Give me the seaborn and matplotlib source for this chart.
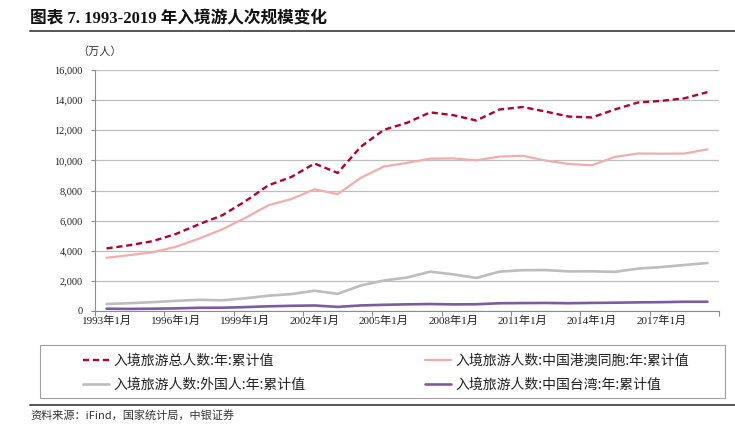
import numpy as np
import pandas as pd
import matplotlib
matplotlib.use('Agg')
import matplotlib.pyplot as plt
from matplotlib.lines import Line2D
from matplotlib.patches import Rectangle
from matplotlib.ticker import FuncFormatter, FixedLocator
import seaborn as sns

# 数据 (万人次)
years = list(range(1993, 2020))
total = [4152.7, 4368.4, 4638.7, 5112.8, 5758.8, 6347.8, 7279.6, 8344.4, 8901.3, 9790.8,
         9166.2, 10903.8, 12029.2, 12494.2, 13187.3, 13002.7, 12647.6, 13376.2, 13542.4,
         13240.5, 12907.8, 12849.8, 13382.0, 13844.4, 13948.2, 14119.8, 14531.0]
hkmo = [3534.8, 3711.2, 3896.8, 4265.0, 4804.2, 5419.5, 6177.9, 7017.5, 7434.5, 8080.8,
        7752.7, 8841.9, 9592.8, 9831.8, 10113.5, 10131.6, 10005.4, 10249.4, 10304.9,
        9987.3, 9762.5, 9677.1, 10233.6, 10456.3, 10444.6, 10451.9, 10729.6]
foreign = [465.2, 518.2, 588.7, 674.4, 742.8, 710.8, 843.2, 1016.0, 1122.6, 1343.9,
           1140.3, 1693.3, 2025.5, 2221.0, 2611.0, 2432.5, 2193.8, 2612.7, 2711.2,
           2719.2, 2629.0, 2636.1, 2598.5, 2815.1, 2916.5, 3054.3, 3188.0]
taiwan = [152.7, 139.0, 153.2, 173.4, 211.8, 217.5, 258.5, 310.9, 344.2, 366.1,
          273.2, 368.6, 410.9, 441.4, 462.8, 438.6, 448.4, 514.1, 526.3,
          534.0, 516.3, 536.6, 549.9, 573.0, 587.1, 613.6, 613.4]
names = ['入境旅游总人数:年:累计值', '入境旅游人数:中国港澳同胞:年:累计值',
         '入境旅游人数:外国人:年:累计值', '入境旅游人数:中国台湾:年:累计值']
tick_labels = [f'{y}年1月' for y in years]

colors = ['#B5002A', '#F0ADAD', '#BDBDBD', '#7B5CA3']
widths = [1.7, 1.6, 1.9, 1.9]

sns.set_theme(style='white')
plt.rcParams['font.family'] = ['Liberation Serif', 'Noto Sans CJK SC', 'DejaVu Sans']

frames = []
for n, v in zip(names, [total, hkmo, foreign, taiwan]):
    frames.append(pd.DataFrame({'pos': np.arange(len(years)), 'value': v, 'series': n}))
df = pd.concat(frames, ignore_index=True)

fig = plt.figure(figsize=(7.35, 4.28), dpi=100)
ax = fig.add_axes([95/735, 1-311/428, (719-95)/735, (311-70)/428])

sns.lineplot(data=df, x='pos', y='value', hue='series', style='series',
             palette=dict(zip(names, colors)),
             dashes={names[0]: (2.6, 1.6), names[1]: '', names[2]: '', names[3]: ''},
             legend=False, ax=ax)
for line, lw in zip(ax.get_lines(), widths):
    line.set_linewidth(lw)

ax.set_xlim(-0.5, len(years) - 0.5)
ax.set_ylim(0, 16000)
ax.set_yticks(range(0, 16001, 2000))
ax.yaxis.set_major_formatter(FuncFormatter(lambda v, p: f'{int(v):,}'))
ax.set_xticks(range(0, len(years), 3))
ax.set_xticklabels(tick_labels[::3])
ax.xaxis.set_minor_locator(FixedLocator(np.arange(-0.5, len(years), 3)))
ax.set_xlabel('')
ax.set_ylabel('')
ax.grid(axis='y', color='#BFBFBF', lw=0.9)
ax.set_axisbelow(True)
for s in ['top', 'right']:
    ax.spines[s].set_visible(False)
for s in ['left', 'bottom']:
    ax.spines[s].set_color('#8C8C8C')
    ax.spines[s].set_linewidth(0.8)
ax.tick_params(axis='y', which='major', left=True, length=3, width=0.8, color='#8C8C8C',
               labelsize=7.5, pad=6, labelcolor='#222222')
ax.tick_params(axis='x', which='major', bottom=False, length=0, labelsize=8, pad=3,
               labelcolor='#222222')
ax.tick_params(axis='x', which='minor', bottom=True, length=3.5, width=0.8, color='#8C8C8C')

fig.text(95/735 - 18/735, 1-52/428, '（万人）', fontsize=8, ha='left', va='center',
         family=['Noto Sans CJK SC'], color='#333333')

# 标题
fig.text(30/735, 1-19/428, '图表 7. 1993-2019 年入境游人次规模变化', fontsize=12,
         fontweight='bold', ha='left', va='center', color='#111111')
fig.add_artist(Line2D([30/735, 1], [1-31/428] * 2, color='#555555', lw=1.4))

# 图例 (按行排列: 总人数, 港澳 / 外国人, 台湾)
fig.add_artist(Rectangle((40/735, 1-398/428), (725-40)/735, (398-345)/428, fill=False,
                         edgecolor='#A0A0A0', lw=0.8, transform=fig.transFigure))
lines = ax.get_lines()[:4]
order = [0, 2, 1, 3]
leg = fig.legend([lines[i] for i in order], [names[i] for i in order], loc='upper left',
                 bbox_to_anchor=(76/735, 1-347/428),
                 ncol=2, frameon=False, borderpad=0, handlelength=1.9,
                 handletextpad=0.3, columnspacing=8.6, labelspacing=0.7,
                 prop={'family': ['Noto Sans CJK SC'], 'size': 10})
for t in leg.get_texts():
    t.set_color('#222222')

fig.add_artist(Line2D([30/735, 1], [1-405/428] * 2, color='#555555', lw=1.4))
fig.text(30/735, 1-415/428, '资料来源：iFind，国家统计局，中银证券', fontsize=8,
         style='italic', ha='left', va='center', family=['Noto Sans CJK SC'], color='#333333')

fig.savefig('out.png', dpi=100)
